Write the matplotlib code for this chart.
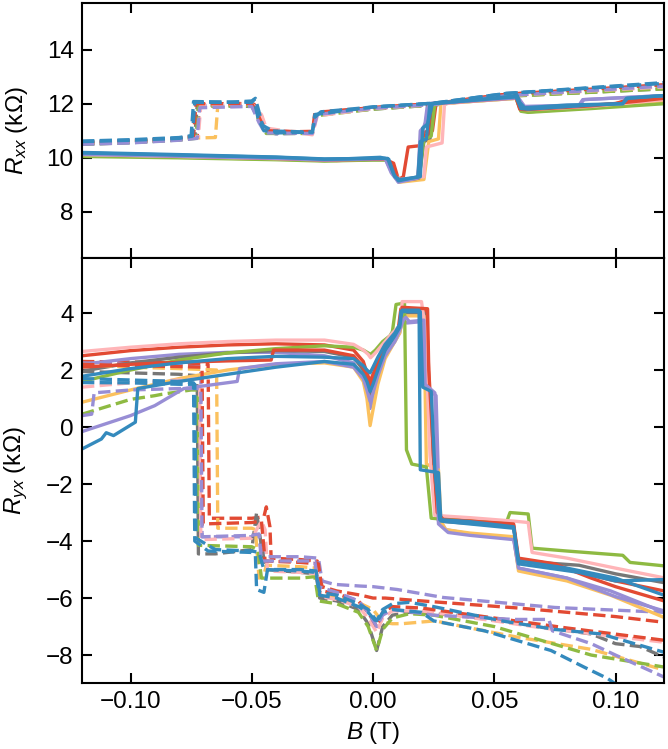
import matplotlib
matplotlib.use("Agg")
import matplotlib.pyplot as plt

# ---------------- data ----------------
COLORS = ['#E24A33', '#348ABD', '#988ED5', '#777777', '#FBC15E',
          '#8EBA42', '#FFB5B8', '#E24A33', '#348ABD', '#988ED5']

X_TICKS = [-0.10, -0.05, 0.00, 0.05, 0.10]
RXX_TICKS = [8, 10, 12, 14]
RYX_TICKS = [-8, -6, -4, -2, 0, 2, 4]

# Rxx, solid (field swept up)
rxx_up_0 = [(-0.12,10.12),(-0.08,10.05),(-0.04,9.97),(-0.015,9.9),(0.0,9.95),(0.005,9.95),(0.0085,9.8),(0.0105,9.2),(0.0125,9.3),(0.0145,10.4),(0.0195,10.45),(0.021,10.95),(0.0245,11.0),(0.026,12.0),(0.04,12.1),(0.058,12.25),(0.060,12.2),(0.061,11.85),(0.0635,11.8),(0.08,11.9),(0.10,12.0),(0.105,12.15),(0.12,12.25)]
rxx_up_1 = [(-0.12,10.2),(-0.08,10.12),(-0.04,10.03),(-0.02,9.96),(-0.01,9.97),(0.003,10.02),(0.0065,9.95),(0.009,9.3),(0.011,9.2),(0.0195,9.3),(0.0205,11.1),(0.0225,11.25),(0.0245,12.0),(0.04,12.12),(0.058,12.28),(0.0595,12.3),(0.0605,12.05),(0.0625,11.85),(0.08,11.95),(0.103,12.0),(0.1045,12.2),(0.12,12.3)]
rxx_up_2 = [(-0.12,10.15),(-0.08,10.08),(-0.04,10.0),(-0.02,9.93),(0.0,9.97),(0.005,9.98),(0.0075,9.5),(0.0105,9.1),(0.012,9.15),(0.019,9.3),(0.0205,11.0),(0.0215,11.3),(0.0225,12.0),(0.04,12.12),(0.058,12.25),(0.0605,12.15),(0.0625,11.9),(0.085,11.95),(0.0865,12.15),(0.12,12.3)]
rxx_up_3 = [(-0.12,10.1),(-0.08,10.03),(-0.04,9.96),(-0.02,9.9),(0.0,9.93),(0.006,9.93),(0.009,9.4),(0.011,9.15),(0.019,9.25),(0.021,10.6),(0.0235,10.7),(0.025,12.0),(0.04,12.1),(0.059,12.22),(0.061,11.75),(0.064,11.7),(0.09,11.85),(0.12,12.05)]
rxx_up_4 = [(-0.12,10.1),(-0.08,10.02),(-0.04,9.95),(-0.02,9.9),(0.0,9.94),(0.006,9.94),(0.009,9.3),(0.011,9.1),(0.021,9.2),(0.023,10.6),(0.027,10.7),(0.028,12.0),(0.04,12.08),(0.059,12.2),(0.061,11.8),(0.064,11.75),(0.09,11.9),(0.12,12.1)]
rxx_up_5 = [(-0.12,10.05),(-0.08,10.0),(-0.04,9.93),(-0.02,9.88),(0.0,9.92),(0.006,9.92),(0.009,9.35),(0.011,9.15),(0.019,9.25),(0.021,10.7),(0.024,10.8),(0.0255,12.0),(0.04,12.08),(0.059,12.2),(0.061,11.72),(0.064,11.68),(0.09,11.82),(0.12,12.0)]
rxx_up_6 = [(-0.12,10.12),(-0.08,10.05),(-0.04,9.97),(-0.02,9.92),(0.0,9.95),(0.006,9.95),(0.009,9.4),(0.011,9.2),(0.021,9.3),(0.022,10.4),(0.0285,10.55),(0.0295,12.0),(0.04,12.08),(0.059,12.2),(0.061,11.8),(0.064,11.78),(0.09,11.9),(0.12,12.15)]
rxx_up_7 = [(-0.12,10.15),(-0.08,10.07),(-0.04,9.98),(-0.02,9.92),(0.0,9.95),(0.006,9.96),(0.009,9.5),(0.0105,9.15),(0.0185,9.25),(0.020,10.8),(0.0225,10.85),(0.024,12.0),(0.04,12.1),(0.059,12.22),(0.0605,11.8),(0.063,11.78),(0.09,11.92),(0.11,12.1),(0.12,12.2)]
rxx_up_8 = [(-0.12,10.18),(-0.08,10.1),(-0.04,10.02),(-0.02,9.95),(0.0,9.98),(0.006,9.98),(0.0085,9.4),(0.0105,9.15),(0.0185,9.3),(0.0195,10.6),(0.022,10.7),(0.0235,12.0),(0.04,12.12),(0.059,12.25),(0.061,11.82),(0.064,11.8),(0.09,11.95),(0.103,12.0),(0.105,12.2),(0.12,12.3)]
rxx_up_9 = [(-0.12,10.13),(-0.08,10.06),(-0.04,9.98),(-0.02,9.92),(0.0,9.96),(0.005,9.97),(0.0075,9.45),(0.0105,9.1),(0.0185,9.25),(0.0195,11.0),(0.0215,11.2),(0.023,12.0),(0.04,12.1),(0.0595,12.22),(0.0615,11.85),(0.0635,11.82),(0.085,11.93),(0.087,12.15),(0.12,12.3)]

# Rxx, dashed (field swept down)
rxx_dn_0 = [(-0.12,10.55),(-0.10,10.6),(-0.08,10.7),(-0.0725,10.78),(-0.0715,11.95),(-0.066,11.98),(-0.058,12.02),(-0.049,11.98),(-0.0475,11.6),(-0.046,11.55),(-0.0445,11.1),(-0.04,10.95),(-0.025,10.98),(-0.0235,11.55),(-0.021,11.7),(0.0,11.85),(0.025,12.0),(0.055,12.35),(0.09,12.52),(0.12,12.68)]
rxx_dn_1 = [(-0.12,10.6),(-0.10,10.65),(-0.08,10.72),(-0.0745,10.8),(-0.0735,12.05),(-0.06,12.05),(-0.05,12.1),(-0.0485,12.2),(-0.047,11.7),(-0.0455,11.2),(-0.04,10.92),(-0.025,10.95),(-0.024,11.5),(-0.0215,11.7),(0.0,11.88),(0.025,12.02),(0.055,12.38),(0.09,12.58),(0.12,12.75)]
rxx_dn_2 = [(-0.12,10.5),(-0.10,10.56),(-0.08,10.66),(-0.073,10.75),(-0.072,11.9),(-0.065,11.95),(-0.049,11.92),(-0.0465,11.4),(-0.0445,11.0),(-0.04,10.88),(-0.025,10.92),(-0.0235,11.6),(0.0,11.83),(0.025,11.98),(0.055,12.3),(0.12,12.6)]
rxx_dn_3 = [(-0.12,10.52),(-0.10,10.58),(-0.08,10.68),(-0.0735,10.75),(-0.0725,11.95),(-0.05,11.9),(-0.047,11.5),(-0.044,10.95),(-0.025,10.9),(-0.0235,11.6),(0.0,11.8),(0.025,11.95),(0.055,12.28),(0.12,12.55)]
rxx_dn_4 = [(-0.12,10.55),(-0.10,10.62),(-0.08,10.72),(-0.065,10.75),(-0.064,11.95),(-0.05,11.95),(-0.047,11.5),(-0.0445,11.0),(-0.025,10.92),(-0.0232,11.6),(0.0,11.82),(0.025,11.97),(0.055,12.3),(0.12,12.6)]
rxx_dn_5 = [(-0.12,10.5),(-0.10,10.56),(-0.08,10.66),(-0.073,10.72),(-0.072,11.9),(-0.05,11.92),(-0.0465,11.3),(-0.044,10.9),(-0.025,10.9),(-0.0238,11.55),(0.0,11.8),(0.025,11.95),(0.055,12.27),(0.12,12.55)]
rxx_dn_6 = [(-0.12,10.55),(-0.10,10.6),(-0.08,10.7),(-0.072,10.78),(-0.071,11.95),(-0.05,12.0),(-0.046,11.6),(-0.044,11.1),(-0.025,10.85),(-0.023,11.55),(0.0,11.82),(0.025,11.97),(0.055,12.3),(0.12,12.62)]
rxx_dn_7 = [(-0.12,10.58),(-0.10,10.63),(-0.08,10.72),(-0.074,10.8),(-0.073,12.0),(-0.05,12.0),(-0.048,11.7),(-0.046,11.3),(-0.043,11.0),(-0.025,10.95),(-0.024,11.65),(0.0,11.86),(0.025,12.0),(0.055,12.35),(0.12,12.7)]
rxx_dn_8 = [(-0.12,10.62),(-0.10,10.67),(-0.08,10.75),(-0.075,10.82),(-0.074,12.08),(-0.05,12.05),(-0.049,12.15),(-0.0475,11.5),(-0.045,11.0),(-0.025,10.95),(-0.024,11.6),(0.0,11.88),(0.025,12.02),(0.055,12.38),(0.12,12.78)]
rxx_dn_9 = [(-0.12,10.5),(-0.10,10.55),(-0.08,10.65),(-0.0725,10.72),(-0.0715,11.85),(-0.05,11.9),(-0.047,11.3),(-0.0445,10.92),(-0.025,10.9),(-0.023,11.6),(0.0,11.83),(0.025,11.97),(0.055,12.3),(0.12,12.65)]

# Ryx, solid (field swept up)
ryx_up_0 = [(-0.12,2.5),(-0.10,2.68),(-0.08,2.8),(-0.06,2.88),(-0.04,2.92),(-0.02,2.88),(-0.008,2.7),(-0.004,2.3),(-0.0025,1.9),(-0.0012,1.6),(0.0,1.85),(0.002,2.3),(0.005,2.8),(0.009,3.25),(0.0105,3.5),(0.0115,4.15),(0.0215,4.1),(0.0225,3.0),(0.0245,-1.5),(0.026,-2.9),(0.028,-3.2),(0.04,-3.28),(0.058,-3.45),(0.0595,-4.65),(0.07,-4.75),(0.08,-5.0),(0.10,-5.4),(0.12,-5.75)]
ryx_up_1 = [(-0.12,1.78),(-0.10,2.05),(-0.08,2.25),(-0.06,2.4),(-0.04,2.48),(-0.02,2.45),(-0.008,2.4),(-0.004,2.15),(-0.0025,2.0),(-0.0012,1.9),(0.0,2.1),(0.002,2.45),(0.005,2.9),(0.009,3.3),(0.011,3.6),(0.0115,4.05),(0.0195,4.05),(0.0205,1.4),(0.024,1.25),(0.0255,-1.5),(0.0275,-3.25),(0.04,-3.32),(0.058,-3.5),(0.06,-4.7),(0.08,-4.95),(0.10,-5.3),(0.12,-5.9)]
ryx_up_2 = [(-0.12,2.2),(-0.10,2.4),(-0.08,2.55),(-0.06,2.62),(-0.04,2.62),(-0.02,2.5),(-0.008,2.25),(-0.004,1.7),(-0.0025,1.2),(-0.0012,0.65),(0.0,1.0),(0.002,1.7),(0.005,2.5),(0.009,3.0),(0.011,3.3),(0.012,3.75),(0.014,3.65),(0.0205,3.7),(0.0215,1.45),(0.026,1.1),(0.0275,-3.3),(0.03,-3.6),(0.04,-3.75),(0.058,-3.9),(0.06,-4.95),(0.08,-5.3),(0.098,-5.75),(0.12,-6.5)]
ryx_up_3 = [(-0.12,1.96),(-0.10,2.25),(-0.08,2.45),(-0.06,2.6),(-0.04,2.68),(-0.02,2.65),(-0.008,2.45),(-0.004,2.0),(-0.0025,1.6),(-0.0012,1.05),(0.0,1.4),(0.002,2.0),(0.005,2.7),(0.009,3.15),(0.011,3.5),(0.012,4.0),(0.021,4.0),(0.022,2.5),(0.025,-1.0),(0.027,-3.3),(0.04,-3.38),(0.058,-3.5),(0.06,-4.7),(0.085,-4.85),(0.10,-5.15),(0.12,-5.46)]
ryx_up_4 = [(-0.12,0.87),(-0.10,1.3),(-0.08,1.7),(-0.06,2.0),(-0.04,2.2),(-0.02,2.25),(-0.008,2.1),(-0.004,1.6),(-0.0025,1.0),(-0.0012,0.05),(0.0,0.6),(0.002,1.5),(0.005,2.4),(0.009,3.0),(0.011,3.3),(0.0125,3.9),(0.021,3.9),(0.022,-1.3),(0.027,-1.5),(0.028,-3.3),(0.03,-3.6),(0.04,-3.72),(0.058,-3.85),(0.06,-5.05),(0.08,-5.4),(0.098,-5.9),(0.12,-6.68)]
ryx_up_5 = [(-0.12,1.6),(-0.10,2.0),(-0.08,2.35),(-0.06,2.6),(-0.04,2.75),(-0.02,2.85),(-0.008,2.8),(-0.004,2.7),(-0.002,2.6),(-0.001,2.55),(0.001,2.7),(0.004,3.0),(0.007,3.2),(0.008,3.35),(0.0095,4.3),(0.013,4.35),(0.0138,-0.8),(0.016,-1.3),(0.022,-1.4),(0.024,-3.2),(0.04,-3.3),(0.055,-3.35),(0.0565,-3.0),(0.064,-3.05),(0.0656,-4.25),(0.08,-4.35),(0.103,-4.5),(0.106,-4.75),(0.12,-4.87)]
ryx_up_6 = [(-0.12,2.65),(-0.10,2.8),(-0.08,2.92),(-0.06,3.0),(-0.04,3.05),(-0.02,3.05),(-0.008,2.9),(-0.004,2.7),(-0.002,2.55),(-0.001,2.43),(0.001,2.6),(0.004,2.9),(0.008,3.3),(0.0115,3.6),(0.012,4.4),(0.02,4.4),(0.0215,3.5),(0.0235,-1.0),(0.0255,-3.1),(0.04,-3.18),(0.058,-3.3),(0.064,-3.35),(0.0656,-4.4),(0.08,-4.6),(0.10,-4.95),(0.12,-5.29)]
ryx_up_7 = [(-0.12,2.1),(-0.10,2.2),(-0.08,2.27),(-0.06,2.32),(-0.042,2.35),(-0.041,2.7),(-0.02,2.7),(-0.008,2.5),(-0.004,2.1),(-0.0025,1.8),(-0.0012,1.44),(0.0,1.7),(0.002,2.2),(0.005,2.8),(0.009,3.2),(0.011,3.5),(0.012,4.2),(0.0225,4.15),(0.023,2.0),(0.025,-1.0),(0.0265,-3.0),(0.029,-3.25),(0.04,-3.3),(0.058,-3.4),(0.06,-4.6),(0.075,-4.8),(0.09,-5.3),(0.10,-5.6),(0.12,-6.1)]
ryx_up_8 = [(-0.12,-0.77),(-0.112,-0.42),(-0.110,-0.2),(-0.107,-0.3),(-0.098,0.17),(-0.097,1.35),(-0.08,1.6),(-0.06,1.85),(-0.04,2.1),(-0.02,2.3),(-0.008,2.2),(-0.004,1.85),(-0.0025,1.6),(-0.0012,1.25),(0.0,1.5),(0.002,2.0),(0.005,2.7),(0.009,3.2),(0.011,3.5),(0.012,4.1),(0.019,4.1),(0.0195,-1.5),(0.027,-1.6),(0.028,-3.3),(0.04,-3.4),(0.058,-3.55),(0.06,-4.8),(0.085,-5.1),(0.10,-5.4),(0.12,-5.35)]
ryx_up_9 = [(-0.12,-0.16),(-0.10,0.4),(-0.09,0.75),(-0.078,1.35),(-0.056,1.6),(-0.055,2.05),(-0.04,2.22),(-0.02,2.3),(-0.008,2.1),(-0.004,1.7),(-0.0025,1.3),(-0.0012,0.9),(0.0,1.2),(0.002,1.8),(0.005,2.5),(0.009,3.0),(0.011,3.4),(0.0125,3.75),(0.0135,3.85),(0.015,3.7),(0.021,3.75),(0.0215,1.5),(0.0255,1.2),(0.027,-3.4),(0.031,-3.7),(0.04,-3.8),(0.058,-3.95),(0.06,-4.95),(0.08,-5.3),(0.10,-5.95),(0.12,-6.45)]

# Ryx, dashed (field swept down)
ryx_dn_0 = [(-0.12,2.3),(-0.10,2.28),(-0.08,2.25),(-0.068,2.2),(-0.0675,-3.2),(-0.05,-3.2),(-0.045,-3.15),(-0.044,-2.8),(-0.0425,-3.5),(-0.042,-4.6),(-0.03,-4.65),(-0.023,-4.7),(-0.021,-5.6),(-0.015,-5.75),(-0.005,-5.9),(0.0,-6.0),(0.005,-6.0),(0.02,-6.1),(0.039,-6.22),(0.06,-6.35),(0.08,-6.5),(0.10,-6.65),(0.12,-6.85)]
ryx_dn_1 = [(-0.12,1.7),(-0.10,1.65),(-0.08,1.6),(-0.074,1.55),(-0.0735,-4.0),(-0.068,-4.35),(-0.05,-4.4),(-0.0485,-4.5),(-0.048,-5.7),(-0.045,-5.8),(-0.0435,-5.0),(-0.03,-5.0),(-0.0235,-5.05),(-0.022,-5.8),(-0.015,-5.9),(-0.006,-6.2),(-0.002,-6.4),(0.0015,-6.8),(0.004,-6.4),(0.008,-6.2),(0.015,-6.15),(0.025,-6.3),(0.053,-6.8),(0.075,-7.1),(0.094,-7.26),(0.12,-7.9)]
ryx_dn_2 = [(-0.12,2.25),(-0.10,2.2),(-0.08,2.15),(-0.071,2.1),(-0.0705,-3.85),(-0.05,-3.85),(-0.047,-3.8),(-0.046,-4.3),(-0.044,-4.55),(-0.03,-4.55),(-0.0225,-4.6),(-0.021,-5.4),(-0.016,-5.52),(-0.005,-5.58),(0.0,-5.6),(0.01,-5.7),(0.029,-5.98),(0.075,-6.33),(0.12,-6.5)]
ryx_dn_3 = [(-0.12,1.95),(-0.10,1.9),(-0.08,1.85),(-0.0725,1.8),(-0.072,-4.45),(-0.065,-4.45),(-0.05,-4.3),(-0.048,-3.0),(-0.046,-4.2),(-0.044,-5.0),(-0.03,-5.1),(-0.0235,-5.15),(-0.022,-6.0),(-0.015,-6.1),(-0.006,-6.4),(-0.002,-6.9),(0.0015,-7.84),(0.004,-7.0),(0.008,-6.6),(0.015,-6.5),(0.035,-6.6),(0.06,-6.9),(0.09,-7.26),(0.10,-7.6),(0.11,-7.7),(0.12,-8.07)]
ryx_dn_4 = [(-0.12,2.2),(-0.10,2.1),(-0.08,2.05),(-0.0645,2.0),(-0.064,-3.55),(-0.05,-3.55),(-0.0485,-3.6),(-0.047,-5.3),(-0.045,-5.2),(-0.044,-4.85),(-0.03,-4.9),(-0.0235,-4.95),(-0.022,-5.9),(-0.015,-6.0),(-0.005,-6.2),(0.0,-6.4),(0.004,-6.85),(0.008,-6.9),(0.012,-6.9),(0.0255,-6.8),(0.04,-7.05),(0.0595,-7.37),(0.09,-7.8),(0.12,-8.52)]
ryx_dn_5 = [(-0.12,0.45),(-0.10,0.97),(-0.09,1.1),(-0.087,1.15),(-0.075,1.3),(-0.0725,1.3),(-0.072,-4.15),(-0.05,-4.2),(-0.0475,-4.3),(-0.046,-5.3),(-0.03,-5.3),(-0.024,-5.25),(-0.0225,-6.1),(-0.015,-6.2),(-0.006,-6.5),(-0.002,-7.0),(0.0015,-7.84),(0.004,-7.1),(0.008,-6.7),(0.015,-6.55),(0.025,-6.6),(0.05,-7.0),(0.07,-7.5),(0.09,-8.0),(0.12,-8.42)]
ryx_dn_6 = [(-0.12,1.4),(-0.10,1.55),(-0.08,1.65),(-0.0715,1.7),(-0.071,-3.95),(-0.05,-3.9),(-0.046,-3.3),(-0.0445,-3.6),(-0.0435,-5.05),(-0.03,-5.1),(-0.023,-5.15),(-0.0215,-5.95),(-0.015,-6.05),(-0.006,-6.3),(-0.002,-6.7),(0.0015,-7.2),(0.004,-6.7),(0.008,-6.45),(0.02,-6.45),(0.05,-6.8),(0.07,-7.05),(0.12,-7.55)]
ryx_dn_7 = [(-0.12,2.2),(-0.10,2.15),(-0.08,2.12),(-0.0705,2.1),(-0.07,-3.4),(-0.05,-3.35),(-0.046,-3.3),(-0.0445,-4.7),(-0.03,-4.75),(-0.0225,-4.8),(-0.021,-5.75),(-0.015,-5.85),(-0.006,-6.1),(-0.002,-6.5),(0.0015,-7.0),(0.004,-6.5),(0.008,-6.3),(0.02,-6.35),(0.05,-6.7),(0.08,-7.05),(0.12,-7.48)]
ryx_dn_8 = [(-0.12,1.56),(-0.10,1.55),(-0.08,1.5),(-0.0735,1.5),(-0.073,-3.9),(-0.065,-4.3),(-0.05,-4.35),(-0.047,-4.4),(-0.045,-5.0),(-0.03,-5.05),(-0.0235,-5.1),(-0.022,-5.9),(-0.015,-6.0),(-0.006,-6.3),(-0.002,-6.5),(0.0015,-6.85),(0.004,-6.5),(0.008,-6.4),(0.02,-6.5),(0.025,-6.8),(0.046,-7.15),(0.0734,-7.84),(0.087,-8.42),(0.0967,-8.82),(0.105,-9.3)]
ryx_dn_9 = [(-0.12,0.4),(-0.116,0.45),(-0.115,1.2),(-0.10,1.3),(-0.08,1.35),(-0.071,1.35),(-0.0705,-3.85),(-0.05,-3.8),(-0.047,-3.75),(-0.046,-4.7),(-0.03,-4.7),(-0.024,-4.7),(-0.0225,-5.6),(-0.015,-5.8),(-0.006,-6.1),(-0.002,-6.5),(0.0015,-7.0),(0.004,-6.6),(0.008,-6.4),(0.025,-6.6),(0.058,-6.75),(0.0725,-6.75),(0.074,-7.15),(0.09,-7.6),(0.10,-8.0),(0.12,-8.77)]

rxx_up = [rxx_up_0, rxx_up_1, rxx_up_2, rxx_up_3, rxx_up_4, rxx_up_5, rxx_up_6, rxx_up_7, rxx_up_8, rxx_up_9]
rxx_dn = [rxx_dn_0, rxx_dn_1, rxx_dn_2, rxx_dn_3, rxx_dn_4, rxx_dn_5, rxx_dn_6, rxx_dn_7, rxx_dn_8, rxx_dn_9]
ryx_up = [ryx_up_0, ryx_up_1, ryx_up_2, ryx_up_3, ryx_up_4, ryx_up_5, ryx_up_6, ryx_up_7, ryx_up_8, ryx_up_9]
ryx_dn = [ryx_dn_0, ryx_dn_1, ryx_dn_2, ryx_dn_3, ryx_dn_4, ryx_dn_5, ryx_dn_6, ryx_dn_7, ryx_dn_8, ryx_dn_9]

DRAW_ORDER = [0, 2, 3, 4, 5, 6, 7, 9, 1, 8]

# ---------------- style ----------------
plt.rcParams['font.family'] = ['Liberation Sans', 'DejaVu Sans']
plt.rcParams['mathtext.fontset'] = 'custom'
plt.rcParams['mathtext.rm'] = 'Liberation Sans'
plt.rcParams['mathtext.it'] = 'Liberation Sans:italic'
FS = 17.5
plt.rcParams['font.size'] = FS

fig = plt.figure(figsize=(6.68, 7.49), dpi=100)
ax1 = fig.add_axes([82/668, 1-258/749, 582/668, 255/749])
ax2 = fig.add_axes([82/668, 1-683/749, 582/668, 425/749], sharex=ax1)

LW = 2.4

def draw(ax, up, dn):
    for i in DRAW_ORDER:
        b, r = zip(*up[i])
        ax.plot(b, r, color=COLORS[i], lw=LW, ls='-', solid_joinstyle='round')
        b, r = zip(*dn[i])
        ax.plot(b, r, color=COLORS[i], lw=LW, ls='--')

draw(ax1, rxx_up, rxx_dn)
draw(ax2, ryx_up, ryx_dn)

for ax in (ax1, ax2):
    for s in ax.spines.values():
        s.set_linewidth(1.5)
    ax.tick_params(direction='in', top=True, right=True, length=7,
                   width=1.5, labelsize=FS, pad=6)

ax1.set_xlim(-0.12, 0.12)
ax1.set_xticks(X_TICKS)
ax1.set_ylim(6.3, 15.72)
ax1.set_yticks(RXX_TICKS)
ax1.tick_params(labelbottom=False)
ax2.set_ylim(-8.98, 5.93)
ax2.set_yticks(RYX_TICKS)
ax2.set_xticks(X_TICKS)
ax2.set_xticklabels([f"{t:.2f}".replace('-', '\u2212') for t in X_TICKS])

ax1.set_ylabel(r'$R_{xx}$ (k$\Omega$)', fontsize=FS)
ax2.set_ylabel(r'$R_{yx}$ (k$\Omega$)', fontsize=FS)
ax1.yaxis.set_label_coords(-0.09, 0.5)
ax2.yaxis.set_label_coords(-0.09, 0.5)
ax2.set_xlabel(r'$B$ (T)', fontsize=FS, labelpad=5)

fig.savefig('out.png', dpi=100)
